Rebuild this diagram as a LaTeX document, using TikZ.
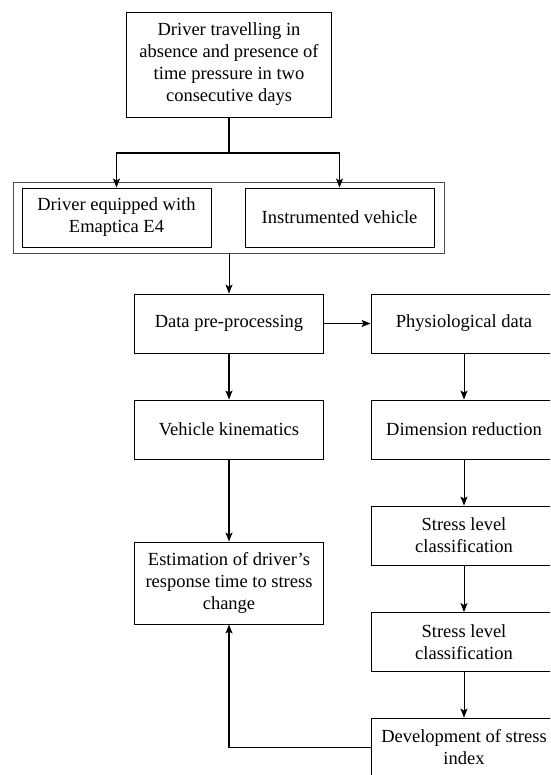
\documentclass[tikz,border=0pt]{standalone}
\usepackage{fontspec}
\setmainfont{Liberation Serif}
\usetikzlibrary{arrows.meta}
\tikzset{
  stepbox/.style={
    draw,
    line width=0.9,
    minimum width=189,
    minimum height=59,
    align=center,
    font=\fontsize{18.5}{22}\selectfont
  },
  flow/.style={
    line width=0.9,
    -{Stealth[length=9,width=7,inset=2]}
  },
  mainflow/.style={
    flow,
    line width=1.5
  }
}

\begin{document}
\begin{tikzpicture}[x=1pt,y=-1pt]
\useasboundingbox (0,0) rectangle (550,775);
\clip (0,0) rectangle (550,775);
%\def\x{1}
%\def\y{1}
\node[stepbox,minimum width=205,minimum height=105] (start) at (229,64.5)
  {Driver travelling in\\absence and presence of\\time pressure in two\\consecutive days};
\node[draw=black!70,line width=0.9,minimum width=431,minimum height=71] (group) at (228.5,217.5) {};
\node[stepbox] (wear) at (116.5,217.5) {Driver equipped with\\Emaptica E4};
\node[stepbox] (car)  at (339.5,217.5) {Instrumented vehicle};
\node[stepbox] (prep) at (229,323.5) {Data pre-processing};
\node[stepbox,minimum width=186] (physio) at (464,323.5) {Physiological data};
\node[stepbox] (kine) at (229,429.5) {Vehicle kinematics};
\node[stepbox,minimum width=186] (dimred) at (464,429.5) {Dimension reduction};
\node[stepbox,minimum width=186] (class1) at (464,535.5) {Stress level\\classification};
\node[stepbox,minimum width=186] (class2) at (464,642) {Stress level\\classification};
\node[stepbox,minimum width=186] (index)  at (464,747.5) {Development of stress\\index};
\node[stepbox,minimum height=82] (resp) at (229,583)
  {Estimation of driver's\\response time to stress\\change};
\coordinate (split) at (229,153);
\draw[line width=1.5] (start.south) -- (split);
\draw[mainflow] (split) -| (wear.north);
\draw[mainflow] (split) -| (car.north);
\draw[flow] (group.south -| prep.north) -- (prep.north);
\draw[flow] (prep.east) -- (physio.west);
\draw[mainflow] (prep) -- (kine);
\draw[mainflow] (kine) -- (resp);
\draw[flow] (physio) -- (dimred);
\draw[flow] (dimred) -- (class1);
\draw[flow] (class1) -- (class2);
\draw[flow] (class2) -- (index);
\draw[mainflow] (index.west) -| (resp.south);
\end{tikzpicture}
\end{document}
